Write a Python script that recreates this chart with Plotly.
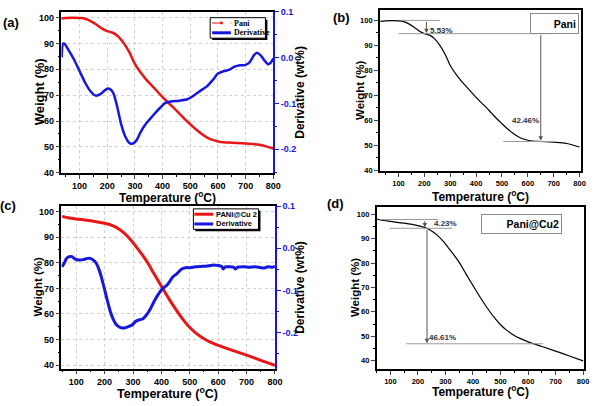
import plotly.graph_objects as go

# ---------------- data ----------------
pani_temp = [30, 50, 75, 100, 120, 140, 160, 180, 200, 220, 240, 260, 280, 300, 320, 340,
             360, 380, 400, 420, 440, 460, 480, 500, 520, 540, 560, 580, 600, 620, 650,
             700, 750, 780, 800]
pani_weight = [99.6, 99.8, 99.9, 99.8, 99.5, 98.6, 97.3, 95.8, 94.7, 94.1, 92.6, 90.0, 86.5,
               82.0, 78.8, 76.1, 73.8, 71.5, 69.2, 67.1, 65.1, 62.9, 60.7, 58.7, 56.8, 55.1,
               53.7, 52.7, 52.1, 51.8, 51.6, 51.3, 50.8, 50.0, 49.4]

pani_deriv_temp = [35, 40, 45, 60, 80, 100, 120, 140, 158, 175, 190, 200, 210, 222, 235, 250,
                   265, 280, 290, 305, 320, 335, 350, 370, 390, 410, 430, 460, 490, 510, 530,
                   560, 580, 600, 620, 640, 660, 680, 700, 715, 730, 742, 755, 770, 782, 790, 800]
pani_deriv = [0.0, 0.03, 0.03, 0.016, -0.005, -0.03, -0.055, -0.074, -0.083, -0.080, -0.072,
              -0.068, -0.069, -0.078, -0.105, -0.145, -0.172, -0.186, -0.188, -0.181, -0.163,
              -0.148, -0.137, -0.123, -0.110, -0.099, -0.096, -0.094, -0.091, -0.084, -0.075,
              -0.063, -0.050, -0.035, -0.030, -0.027, -0.020, -0.017, -0.016, -0.010, 0.005,
              0.010, 0.004, -0.008, -0.015, -0.012, -0.002]

cu_temp = [50, 75, 100, 150, 200, 230, 250, 270, 290, 310, 330, 350, 375, 400, 425, 450, 475,
           500, 525, 550, 575, 600, 650, 700, 750, 800]
cu_weight = [98.1, 97.5, 97.1, 96.4, 95.4, 94.4, 93.2, 91.5, 89.2, 86.4, 83.5, 80.3, 75.5, 70.8,
             66.2, 61.9, 58.0, 54.7, 52.2, 50.3, 48.9, 47.7, 45.8, 43.9, 41.9, 39.9]

cu_deriv_temp = [50, 58, 65, 75, 85, 95, 110, 125, 140, 150, 160, 170, 180, 190, 200, 210, 220,
                 230, 240, 250, 262, 275, 290, 300, 310, 320, 335, 345, 360, 375, 390, 405, 420,
                 430, 440, 455, 470, 485, 500, 520, 540, 560, 580, 600, 612, 618, 625, 640, 655,
                 660, 668, 690, 710, 730, 750, 760, 775, 790, 800]
cu_deriv = [-0.044, -0.035, -0.025, -0.020, -0.020, -0.025, -0.028, -0.027, -0.024, -0.024,
            -0.028, -0.035, -0.050, -0.072, -0.098, -0.125, -0.150, -0.168, -0.180, -0.186,
            -0.189, -0.188, -0.184, -0.180, -0.173, -0.170, -0.167, -0.160, -0.145, -0.125,
            -0.108, -0.095, -0.087, -0.078, -0.068, -0.060, -0.050, -0.046, -0.046, -0.044,
            -0.043, -0.042, -0.040, -0.041, -0.043, -0.049, -0.044, -0.044, -0.045, -0.049,
            -0.045, -0.044, -0.045, -0.044, -0.046, -0.047, -0.044, -0.045, -0.044]

temp_ticks = [100, 200, 300, 400, 500, 600, 700, 800]
weight_ticks = [40, 50, 60, 70, 80, 90, 100]
deriv_ticks = [-0.2, -0.1, 0.0, 0.1]
deriv_ticktext = ["-0.2", "-0.1", "0.0", "0.1"]

# step annotations (b): levels and arrows
b_levels = [(100.0, 110, 260), (94.7, 100, 685), (51.6, 505, 700)]
b_arrows = [(208, 100.0, 94.9), (650, 94.7, 51.9)]
b_texts = [("5.53%", 266, 95.9), ("42.46%", 590, 60.0)]
# step annotations (d)
d_levels = [(97.9, 62, 273), (94.3, 98, 325), (46.9, 157, 655)]
d_arrows = [(225, 97.9, 94.6), (233, 94.3, 47.1)]
d_texts = [("4.23%", 300, 96.2), ("46.61%", 290, 49.6)]

# legend entries (label, colour, dashed?)
legend_a = [("Pani", "red", True), ("Derivative", "blue", False)]
legend_c = [("PANI@Cu 2", "red", False), ("Derivative", "blue", False)]

RED = "rgb(232,22,22)"
BLUE = "rgb(22,22,225)"
COL = {"red": RED, "blue": BLUE}
FONT = "Liberation Sans"
W, H = 600, 406

fig = go.Figure()

# (a)
fig.add_trace(go.Scatter(x=pani_temp, y=pani_weight, mode="lines", name="Pani",
                         line=dict(color=RED, width=2.5, shape="spline"), xaxis="x", yaxis="y"))
fig.add_trace(go.Scatter(x=pani_deriv_temp, y=pani_deriv, mode="lines", name="Derivative",
                         line=dict(color=BLUE, width=2.5, shape="spline", smoothing=0.6),
                         xaxis="x", yaxis="y2"))
# (b)
fig.add_trace(go.Scatter(x=pani_temp, y=pani_weight, mode="lines", name="Pani",
                         line=dict(color="black", width=1.2, shape="spline"), xaxis="x2", yaxis="y3"))
# (c)
fig.add_trace(go.Scatter(x=cu_temp, y=cu_weight, mode="lines", name="PANI@Cu 2",
                         line=dict(color=RED, width=3, shape="spline"), xaxis="x3", yaxis="y4"))
fig.add_trace(go.Scatter(x=cu_deriv_temp, y=cu_deriv, mode="lines", name="Derivative",
                         line=dict(color=BLUE, width=3, shape="spline", smoothing=0.5),
                         xaxis="x3", yaxis="y5"))
# (d)
fig.add_trace(go.Scatter(x=cu_temp, y=cu_weight, mode="lines", name="Pani@Cu2",
                         line=dict(color="black", width=1.2, shape="spline"), xaxis="x4", yaxis="y6"))


def dx(a, b):
    return [a / W, b / W]


def dy(top, bottom):
    return [1 - bottom / H, 1 - top / H]


def PX(v):
    return v / W


def PY(v):
    return 1 - v / H


tick_font_a = dict(family=FONT, size=9, color="black", weight="bold")
tick_font_b = dict(family=FONT, size=7.5, color="black", weight="bold")


def xa(domain, rng, anchor, grid, tf):
    return dict(domain=domain, range=rng, anchor=anchor, tickvals=temp_ticks, ticks="outside", ticklen=4,
                tickwidth=1.2, linecolor="black", linewidth=1.5, mirror=True, showgrid=grid,
                gridcolor="#d0d0d0", griddash="dot", gridwidth=1, tickfont=tf, zeroline=False,
                minor=dict(tickvals=[50, 150, 250, 350, 450, 550, 650, 750], ticks="outside", ticklen=2,
                           tickcolor="black", showgrid=False))


def ya(domain, rng, anchor, grid, tf, mirror):
    return dict(domain=domain, range=rng, anchor=anchor, tickvals=weight_ticks, ticks="outside", ticklen=4,
                tickwidth=1.2, linecolor="black", linewidth=1.5, mirror=mirror, showgrid=grid,
                gridcolor="#d0d0d0", griddash="dot", gridwidth=1, tickfont=tf, zeroline=False,
                minor=dict(tickvals=[45, 55, 65, 75, 85, 95], ticks="outside", ticklen=2, tickcolor="black",
                           showgrid=False))


def ya_right(overlay, rng, anchor):
    return dict(overlaying=overlay, side="right", anchor=anchor, range=rng, tickvals=deriv_ticks,
                ticktext=deriv_ticktext, ticks="outside", ticklen=4, tickwidth=1.2, tickcolor=BLUE,
                linecolor=BLUE, linewidth=1.5, showgrid=False, zeroline=False,
                tickfont=dict(family=FONT, size=9, color=BLUE, weight="bold"),
                minor=dict(tickvals=[-0.25, -0.15, -0.05, 0.05], ticks="outside", ticklen=2, tickcolor=BLUE))


fig.update_layout(
    width=W, height=H, autosize=False, margin=dict(l=0, r=0, t=0, b=0), showlegend=False,
    paper_bgcolor="white", plot_bgcolor="white",
    xaxis=xa(dx(62.3, 277), [34.4, 800], "y", True, tick_font_a),
    yaxis=ya(dy(6.7, 172), [40, 102.3], "x", True, tick_font_a, False),
    yaxis2=ya_right("y", [-0.251, 0.1], "x"),
    xaxis2=xa(dx(385, 588.7), [28, 805], "y3", False, tick_font_b),
    yaxis3=ya(dy(5, 170.7), [39.6, 104.2], "x2", False, tick_font_b, True),
    xaxis3=xa(dx(62.3, 278.7), [48, 800], "y4", True, tick_font_a),
    yaxis4=ya(dy(205.7, 372.7), [38.7, 102.3], "x3", True, tick_font_a, False),
    yaxis5=ya_right("y4", [-0.285, 0.101], "x3"),
    xaxis4=xa(dx(381.7, 592), [50, 803.6], "y6", False, tick_font_b),
    yaxis6=ya(dy(206.7, 373.3), [36.5, 103.2], "x4", False, tick_font_b, True),
)


# hand-built legends (box with drop shadow, line samples and labels)
def draw_legend(entries, box, line_x, text_x, rows, font):
    x0, y0, x1, y1 = box
    fig.add_shape(type="rect", xref="paper", yref="paper", x0=PX(x0 + 2), x1=PX(x1 + 2), y0=PY(y1 + 2),
                  y1=PY(y0 + 2), fillcolor="black", line=dict(width=0), layer="above")
    fig.add_shape(type="rect", xref="paper", yref="paper", x0=PX(x0), x1=PX(x1), y0=PY(y1), y1=PY(y0),
                  fillcolor="white", line=dict(color="black", width=1), layer="above")
    for (label, colour, dashed), ry in zip(entries, rows):
        c = COL[colour]
        fig.add_shape(type="line", xref="paper", yref="paper", x0=PX(line_x[0]), x1=PX(line_x[1]),
                      y0=PY(ry), y1=PY(ry), layer="above",
                      line=dict(color=c, width=1 if dashed else 3, dash="dash" if dashed else "solid"))
        if dashed:
            mx = (line_x[0] + line_x[1]) / 2
            fig.add_shape(type="circle", xref="paper", yref="paper", x0=PX(mx - 1.5), x1=PX(mx + 1.5),
                          y0=PY(ry + 1.5), y1=PY(ry - 1.5), fillcolor=c, line=dict(width=0), layer="above")
        fig.add_annotation(xref="paper", yref="paper", x=PX(text_x), y=PY(ry), text=label, showarrow=False,
                           xanchor="left", yanchor="middle", font=font)


draw_legend(legend_a, (213, 13, 269, 34), (215, 234), 235, (18.5, 28.5),
            dict(family="Liberation Serif", size=8, color="black", weight="bold"))
draw_legend(legend_c, (196, 209, 262, 230), (197, 216), 216.5, (214.5, 224.5),
            dict(family=FONT, size=7.5, color="black", weight="bold"))

# step lines and arrows
for levels, arrows, texts, xr, yr in [(b_levels, b_arrows, b_texts, "x2", "y3"),
                                       (d_levels, d_arrows, d_texts, "x4", "y6")]:
    for lvl, x0, x1 in levels:
        fig.add_shape(type="line", xref=xr, yref=yr, x0=x0, x1=x1, y0=lvl, y1=lvl,
                      line=dict(color="#9a9a9a", width=1))
    for xv, y_from, y_to in arrows:
        fig.add_annotation(xref=xr, yref=yr, axref=xr, ayref=yr, x=xv, y=y_to, ax=xv, ay=y_from, text="",
                           showarrow=True, arrowhead=2, arrowsize=0.9, arrowwidth=1, arrowcolor="#555555",
                           standoff=0, startstandoff=0)
    for t, xv, yv in texts:
        fig.add_annotation(xref=xr, yref=yr, x=xv, y=yv, text=t, showarrow=False,
                           font=dict(family=FONT, size=8, color="#333333", weight="bold"))

# sample boxes in (b) and (d)
fig.add_annotation(xref="paper", yref="paper", x=PX(587), y=PY(8), xanchor="right", yanchor="top",
                   text="Pani", showarrow=False, width=43, height=15, align="right", borderpad=2,
                   bordercolor="#8a8a8a", borderwidth=1, bgcolor="white",
                   font=dict(family=FONT, size=10.5, color="black", weight="bold"))
fig.add_annotation(xref="paper", yref="paper", x=PX(570), y=PY(214), xanchor="right", yanchor="top",
                   text="Pani@Cu2", showarrow=False, width=75, height=14, align="right", borderpad=2,
                   bordercolor="#8a8a8a", borderwidth=1, bgcolor="white",
                   font=dict(family=FONT, size=10.5, color="black", weight="bold"))

# axis titles and panel letters
title_font = dict(family=FONT, size=13, color="black", weight="bold")
title_font_t = dict(family=FONT, size=12.5, color="black", weight="bold")
title_font_u = dict(family=FONT, size=12, color="black", weight="bold")
title_font_r = dict(family=FONT, size=12, color="black", weight="bold")
title_font_s = dict(family=FONT, size=11.5, color="black", weight="bold")
temp_title = "Temperature (<sup>o</sup>C)"
titles = [
    ("Weight (%)", 40, 89, -90, title_font),
    ("Derivative (wt%)", 304, 89, -90, title_font_r),
    (temp_title, 170, 196.5, 0, title_font_u),
    ("Weight (%)", 365, 88, -90, title_font_s),
    (temp_title, 487, 196, 0, title_font_u),
    ("Weight (%)", 38, 289, -90, title_font_s),
    ("Derivative (wt%)", 304, 289, -90, title_font_r),
    (temp_title, 170, 398, 0, title_font_t),
    ("Weight (%)", 360, 290, -90, title_font_s),
    (temp_title, 487, 396, 0, title_font_u),
    ("(a)", 11, 18, 0, title_font),
    ("(b)", 346, 13, 0, title_font),
    ("(c)", 8, 206, 0, title_font),
    ("(d)", 340, 204, 0, title_font),
]
for t, px, py, ang, f in titles:
    fig.add_annotation(xref="paper", yref="paper", x=PX(px), y=PY(py), text=t, showarrow=False,
                       textangle=ang, xanchor="center", yanchor="middle", font=f)

fig.write_html("out.html", config={"displayModeBar": False},
               post_script="document.body.style.margin='0px';document.body.style.overflow='hidden';")
